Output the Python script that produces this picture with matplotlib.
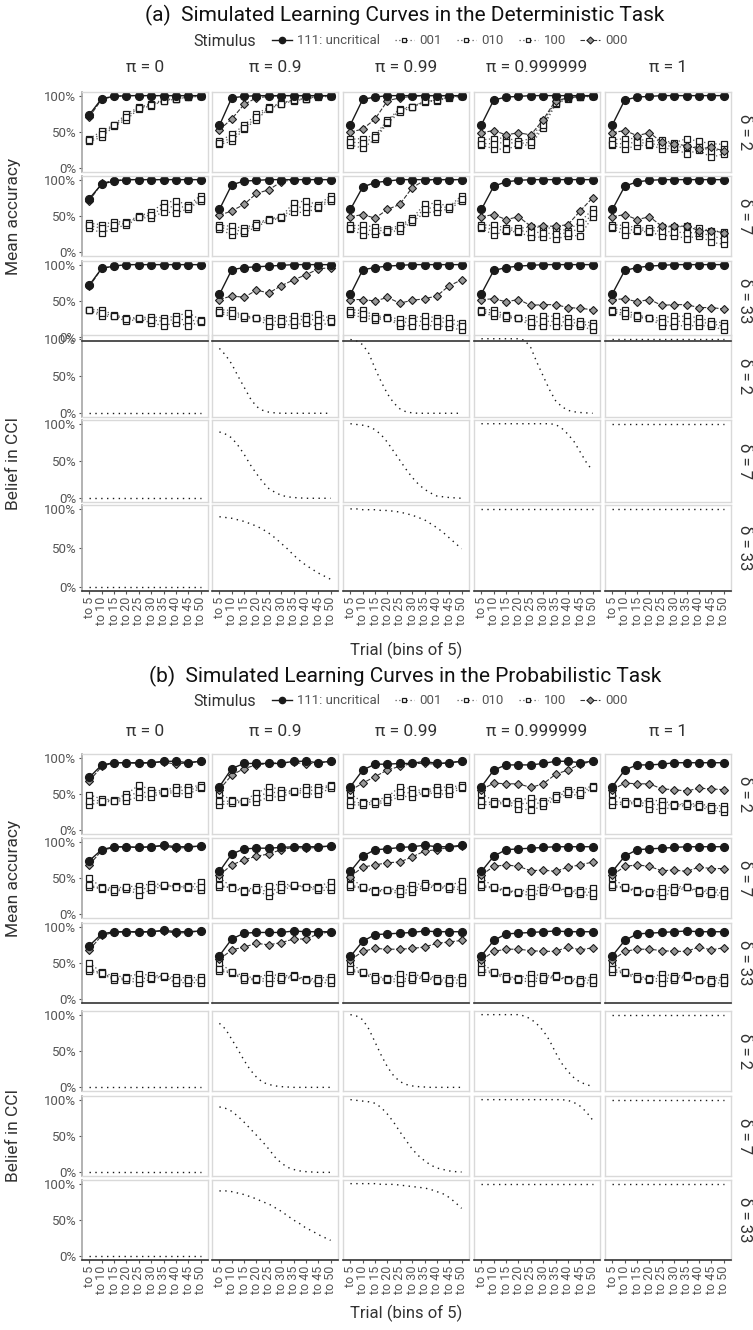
import matplotlib
matplotlib.use("Agg")
import matplotlib.pyplot as plt
from matplotlib.lines import Line2D
import numpy as np

plt.rcParams['font.family'] = ['Roboto', 'DejaVu Sans']

# ---- categories / labels ----
BINS = ["to 5", "to 10", "to 15", "to 20", "to 25", "to 30", "to 35", "to 40", "to 45", "to 50"]
PI_LABELS = ["0", "0.9", "0.99", "0.999999", "1"]
DELTAS = ["2", "7", "33"]
STIMULI = ["111", "001", "010", "100", "000"]
STIM_NAMES = ["111: uncritical", "001", "010", "100", "000"]
BELIEF_X = [1, 1.5, 2, 2.5, 3, 3.5, 4, 4.5, 5, 5.5, 6, 6.5, 7, 7.5, 8, 8.5, 9, 9.5, 10]

# ---- (a) deterministic task: mean accuracy, one row per pi ----
det_d2_111 = [[0.74, 0.96, 0.99, 1.00, 1.00, 1.00, 1.00, 1.00, 1.00, 1.00],
              [0.59, 0.97, 0.99, 1.00, 1.00, 1.00, 1.00, 1.00, 1.00, 1.00],
              [0.60, 0.95, 0.98, 1.00, 1.00, 1.00, 1.00, 1.00, 1.00, 1.00],
              [0.60, 0.94, 0.98, 0.99, 1.00, 1.00, 1.00, 1.00, 1.00, 1.00],
              [0.60, 0.94, 0.98, 0.99, 1.00, 1.00, 1.00, 1.00, 1.00, 1.00]]
det_d2_001 = [[0.41, 0.51, 0.60, 0.75, 0.84, 0.89, 0.94, 0.96, 0.98, 0.99],
              [0.37, 0.47, 0.59, 0.75, 0.84, 0.90, 0.94, 0.96, 0.99, 1.00],
              [0.40, 0.41, 0.46, 0.66, 0.82, 0.85, 0.92, 0.94, 0.98, 0.99],
              [0.39, 0.41, 0.42, 0.37, 0.41, 0.65, 0.91, 0.97, 0.98, 1.00],
              [0.39, 0.41, 0.41, 0.37, 0.39, 0.35, 0.41, 0.37, 0.34, 0.33]]
det_d2_010 = [[0.37, 0.43, 0.58, 0.67, 0.82, 0.86, 0.93, 0.95, 0.98, 0.99],
              [0.33, 0.37, 0.54, 0.67, 0.82, 0.88, 0.93, 0.95, 0.98, 0.99],
              [0.32, 0.28, 0.40, 0.62, 0.77, 0.84, 0.91, 0.93, 0.97, 0.99],
              [0.32, 0.27, 0.26, 0.32, 0.32, 0.56, 0.88, 0.96, 0.98, 0.99],
              [0.32, 0.27, 0.31, 0.32, 0.27, 0.27, 0.20, 0.25, 0.15, 0.20]]
det_d2_100 = [[0.39, 0.47, 0.59, 0.71, 0.83, 0.87, 0.93, 0.96, 0.99, 1.00],
              [0.35, 0.42, 0.56, 0.70, 0.83, 0.89, 0.94, 0.96, 0.99, 1.00],
              [0.36, 0.35, 0.43, 0.64, 0.80, 0.85, 0.92, 0.94, 0.98, 1.00],
              [0.34, 0.34, 0.36, 0.34, 0.36, 0.60, 0.90, 0.97, 0.99, 1.00],
              [0.34, 0.34, 0.36, 0.34, 0.32, 0.30, 0.29, 0.30, 0.24, 0.26]]
det_d2_000 = [[0.71, 0.95, 0.99, 1.00, 1.00, 1.00, 1.00, 1.00, 1.00, 1.00],
              [0.53, 0.68, 0.88, 0.97, 0.99, 1.00, 1.00, 1.00, 1.00, 1.00],
              [0.50, 0.54, 0.68, 0.93, 0.97, 0.99, 1.00, 1.00, 1.00, 1.00],
              [0.49, 0.52, 0.46, 0.49, 0.46, 0.67, 0.93, 0.97, 0.99, 1.00],
              [0.49, 0.52, 0.45, 0.49, 0.36, 0.34, 0.31, 0.27, 0.29, 0.24]]

det_d7_111 = [[0.74, 0.94, 0.98, 1.00, 1.00, 1.00, 1.00, 1.00, 1.00, 1.00],
              [0.59, 0.93, 0.98, 0.99, 1.00, 1.00, 1.00, 1.00, 1.00, 1.00],
              [0.59, 0.90, 0.96, 0.98, 1.00, 1.00, 1.00, 1.00, 1.00, 1.00],
              [0.59, 0.91, 0.97, 0.99, 1.00, 1.00, 1.00, 1.00, 1.00, 1.00],
              [0.59, 0.91, 0.97, 0.99, 1.00, 1.00, 1.00, 1.00, 1.00, 1.00]]
det_d7_001 = [[0.40, 0.38, 0.42, 0.42, 0.50, 0.55, 0.68, 0.71, 0.65, 0.78],
              [0.37, 0.36, 0.33, 0.40, 0.46, 0.49, 0.68, 0.71, 0.65, 0.78],
              [0.37, 0.37, 0.35, 0.32, 0.37, 0.47, 0.66, 0.68, 0.63, 0.78],
              [0.38, 0.37, 0.34, 0.33, 0.35, 0.34, 0.33, 0.30, 0.42, 0.59],
              [0.38, 0.37, 0.34, 0.33, 0.35, 0.35, 0.36, 0.33, 0.30, 0.28]]
det_d7_010 = [[0.34, 0.26, 0.34, 0.37, 0.48, 0.47, 0.56, 0.54, 0.60, 0.71],
              [0.32, 0.24, 0.27, 0.35, 0.44, 0.47, 0.55, 0.55, 0.61, 0.71],
              [0.32, 0.24, 0.25, 0.28, 0.30, 0.42, 0.54, 0.56, 0.60, 0.70],
              [0.33, 0.24, 0.29, 0.28, 0.21, 0.21, 0.18, 0.23, 0.23, 0.49],
              [0.33, 0.24, 0.29, 0.28, 0.23, 0.23, 0.19, 0.23, 0.14, 0.11]]
det_d7_100 = [[0.37, 0.33, 0.38, 0.40, 0.49, 0.51, 0.62, 0.63, 0.62, 0.74],
              [0.35, 0.30, 0.30, 0.38, 0.45, 0.48, 0.61, 0.63, 0.63, 0.74],
              [0.34, 0.31, 0.30, 0.30, 0.34, 0.44, 0.60, 0.62, 0.62, 0.74],
              [0.35, 0.31, 0.31, 0.30, 0.28, 0.27, 0.25, 0.27, 0.33, 0.54],
              [0.35, 0.31, 0.31, 0.30, 0.29, 0.28, 0.27, 0.27, 0.23, 0.18]]
det_d7_000 = [[0.71, 0.95, 0.99, 1.00, 1.00, 1.00, 1.00, 1.00, 1.00, 1.00],
              [0.51, 0.57, 0.66, 0.81, 0.86, 0.97, 1.00, 1.00, 1.00, 1.00],
              [0.49, 0.52, 0.47, 0.59, 0.66, 0.89, 0.99, 1.00, 1.00, 1.00],
              [0.49, 0.52, 0.45, 0.49, 0.36, 0.36, 0.36, 0.38, 0.57, 0.75],
              [0.49, 0.52, 0.45, 0.49, 0.36, 0.36, 0.36, 0.30, 0.30, 0.27]]

det_d33_111 = [[0.72, 0.95, 0.98, 1.00, 1.00, 1.00, 1.00, 1.00, 1.00, 1.00],
               [0.59, 0.93, 0.96, 0.97, 0.98, 0.99, 1.00, 1.00, 1.00, 1.00],
               [0.59, 0.93, 0.96, 0.98, 0.99, 1.00, 1.00, 1.00, 1.00, 1.00],
               [0.60, 0.92, 0.96, 0.98, 0.99, 1.00, 1.00, 1.00, 1.00, 1.00],
               [0.60, 0.92, 0.96, 0.98, 0.99, 1.00, 1.00, 1.00, 1.00, 1.00]]
det_d33_001 = [[0.38, 0.38, 0.31, 0.27, 0.27, 0.28, 0.27, 0.29, 0.34, 0.24],
               [0.38, 0.37, 0.30, 0.27, 0.27, 0.27, 0.29, 0.29, 0.32, 0.26],
               [0.38, 0.37, 0.30, 0.28, 0.25, 0.27, 0.29, 0.27, 0.26, 0.20],
               [0.38, 0.38, 0.31, 0.27, 0.27, 0.29, 0.29, 0.27, 0.22, 0.20],
               [0.38, 0.38, 0.31, 0.27, 0.27, 0.29, 0.29, 0.27, 0.22, 0.20]]
det_d33_010 = [[0.37, 0.29, 0.29, 0.22, 0.25, 0.20, 0.16, 0.20, 0.16, 0.21],
               [0.33, 0.29, 0.27, 0.26, 0.16, 0.18, 0.17, 0.20, 0.15, 0.21],
               [0.32, 0.27, 0.24, 0.26, 0.16, 0.16, 0.16, 0.16, 0.14, 0.10],
               [0.35, 0.29, 0.27, 0.26, 0.16, 0.16, 0.16, 0.16, 0.16, 0.10],
               [0.35, 0.29, 0.27, 0.26, 0.16, 0.16, 0.16, 0.16, 0.16, 0.10]]
det_d33_100 = [[0.37, 0.33, 0.30, 0.25, 0.26, 0.24, 0.22, 0.25, 0.24, 0.22],
               [0.35, 0.33, 0.29, 0.27, 0.22, 0.22, 0.23, 0.25, 0.24, 0.23],
               [0.35, 0.32, 0.27, 0.27, 0.20, 0.22, 0.22, 0.22, 0.20, 0.15],
               [0.36, 0.33, 0.29, 0.26, 0.21, 0.22, 0.22, 0.21, 0.19, 0.15],
               [0.36, 0.33, 0.29, 0.26, 0.21, 0.22, 0.22, 0.21, 0.19, 0.15]]
det_d33_000 = [[0.70, 0.95, 0.98, 1.00, 1.00, 1.00, 1.00, 1.00, 1.00, 1.00],
               [0.52, 0.57, 0.55, 0.65, 0.61, 0.71, 0.79, 0.86, 0.94, 0.96],
               [0.52, 0.52, 0.50, 0.55, 0.47, 0.51, 0.53, 0.57, 0.71, 0.79],
               [0.52, 0.53, 0.49, 0.52, 0.44, 0.45, 0.45, 0.41, 0.40, 0.38],
               [0.52, 0.53, 0.49, 0.52, 0.44, 0.45, 0.45, 0.41, 0.41, 0.39]]

# ---- (b) probabilistic task: mean accuracy ----
prob_d2_111 = [[0.73, 0.90, 0.93, 0.93, 0.93, 0.93, 0.95, 0.95, 0.93, 0.95],
               [0.60, 0.85, 0.92, 0.92, 0.92, 0.92, 0.95, 0.95, 0.93, 0.95],
               [0.60, 0.83, 0.91, 0.91, 0.92, 0.92, 0.95, 0.92, 0.93, 0.95],
               [0.60, 0.83, 0.90, 0.90, 0.90, 0.92, 0.95, 0.95, 0.93, 0.95],
               [0.60, 0.83, 0.90, 0.90, 0.91, 0.93, 0.93, 0.93, 0.93, 0.93]]
prob_d2_001 = [[0.49, 0.43, 0.42, 0.50, 0.62, 0.56, 0.54, 0.60, 0.59, 0.62],
               [0.50, 0.42, 0.41, 0.51, 0.60, 0.56, 0.54, 0.60, 0.59, 0.62],
               [0.50, 0.39, 0.41, 0.46, 0.60, 0.57, 0.54, 0.60, 0.59, 0.62],
               [0.50, 0.41, 0.40, 0.41, 0.45, 0.40, 0.49, 0.56, 0.56, 0.61],
               [0.50, 0.41, 0.40, 0.41, 0.41, 0.36, 0.37, 0.36, 0.34, 0.34]]
prob_d2_010 = [[0.35, 0.39, 0.40, 0.41, 0.46, 0.46, 0.52, 0.51, 0.50, 0.58],
               [0.35, 0.37, 0.39, 0.39, 0.46, 0.46, 0.53, 0.50, 0.50, 0.58],
               [0.35, 0.35, 0.36, 0.39, 0.47, 0.46, 0.52, 0.50, 0.50, 0.58],
               [0.35, 0.36, 0.37, 0.30, 0.28, 0.33, 0.43, 0.50, 0.48, 0.58],
               [0.35, 0.36, 0.37, 0.30, 0.28, 0.33, 0.34, 0.32, 0.28, 0.25]]
prob_d2_100 = [[0.41, 0.41, 0.41, 0.46, 0.53, 0.51, 0.53, 0.55, 0.55, 0.60],
               [0.40, 0.40, 0.40, 0.45, 0.53, 0.51, 0.54, 0.55, 0.55, 0.61],
               [0.40, 0.37, 0.39, 0.42, 0.53, 0.51, 0.53, 0.55, 0.55, 0.60],
               [0.40, 0.38, 0.39, 0.36, 0.38, 0.37, 0.46, 0.53, 0.52, 0.60],
               [0.40, 0.38, 0.39, 0.36, 0.35, 0.35, 0.36, 0.34, 0.31, 0.30]]
prob_d2_000 = [[0.68, 0.88, 0.93, 0.93, 0.92, 0.93, 0.94, 0.91, 0.93, 0.95],
               [0.56, 0.76, 0.85, 0.90, 0.92, 0.93, 0.94, 0.91, 0.93, 0.95],
               [0.55, 0.65, 0.74, 0.83, 0.88, 0.92, 0.92, 0.91, 0.93, 0.95],
               [0.56, 0.65, 0.64, 0.64, 0.59, 0.64, 0.77, 0.83, 0.91, 0.95],
               [0.56, 0.65, 0.64, 0.64, 0.57, 0.56, 0.54, 0.58, 0.57, 0.56]]

prob_d7_111 = [[0.74, 0.89, 0.93, 0.93, 0.92, 0.93, 0.95, 0.93, 0.93, 0.94],
               [0.59, 0.83, 0.90, 0.91, 0.91, 0.92, 0.93, 0.93, 0.93, 0.94],
               [0.59, 0.80, 0.89, 0.90, 0.92, 0.93, 0.95, 0.93, 0.93, 0.95],
               [0.59, 0.80, 0.89, 0.90, 0.91, 0.92, 0.93, 0.93, 0.93, 0.93],
               [0.59, 0.80, 0.89, 0.90, 0.91, 0.92, 0.93, 0.93, 0.93, 0.93]]
prob_d7_001 = [[0.50, 0.37, 0.36, 0.38, 0.39, 0.42, 0.41, 0.39, 0.39, 0.45],
               [0.50, 0.38, 0.34, 0.37, 0.39, 0.42, 0.40, 0.38, 0.38, 0.45],
               [0.50, 0.38, 0.34, 0.34, 0.36, 0.40, 0.43, 0.39, 0.39, 0.46],
               [0.50, 0.38, 0.33, 0.31, 0.36, 0.38, 0.38, 0.33, 0.34, 0.36],
               [0.50, 0.38, 0.33, 0.31, 0.36, 0.38, 0.38, 0.33, 0.34, 0.33]]
prob_d7_010 = [[0.38, 0.35, 0.31, 0.35, 0.27, 0.34, 0.39, 0.37, 0.36, 0.33],
               [0.38, 0.37, 0.31, 0.33, 0.25, 0.33, 0.39, 0.37, 0.33, 0.33],
               [0.38, 0.36, 0.31, 0.33, 0.28, 0.31, 0.37, 0.37, 0.35, 0.34],
               [0.38, 0.36, 0.31, 0.30, 0.25, 0.31, 0.37, 0.30, 0.28, 0.25],
               [0.38, 0.36, 0.31, 0.30, 0.25, 0.31, 0.37, 0.30, 0.28, 0.25]]
prob_d7_100 = [[0.40, 0.36, 0.33, 0.37, 0.33, 0.38, 0.40, 0.38, 0.38, 0.38],
               [0.40, 0.36, 0.32, 0.35, 0.31, 0.37, 0.40, 0.38, 0.36, 0.38],
               [0.40, 0.37, 0.32, 0.34, 0.32, 0.35, 0.40, 0.38, 0.37, 0.38],
               [0.40, 0.37, 0.32, 0.31, 0.31, 0.34, 0.38, 0.32, 0.31, 0.30],
               [0.40, 0.37, 0.32, 0.31, 0.31, 0.34, 0.38, 0.32, 0.31, 0.29]]
prob_d7_000 = [[0.68, 0.88, 0.92, 0.93, 0.92, 0.93, 0.94, 0.91, 0.92, 0.94],
               [0.54, 0.68, 0.75, 0.80, 0.83, 0.89, 0.92, 0.91, 0.92, 0.94],
               [0.52, 0.65, 0.68, 0.71, 0.72, 0.79, 0.87, 0.89, 0.92, 0.94],
               [0.54, 0.66, 0.68, 0.66, 0.60, 0.61, 0.59, 0.65, 0.68, 0.72],
               [0.54, 0.66, 0.68, 0.66, 0.60, 0.61, 0.59, 0.65, 0.63, 0.63]]

prob_d33_111 = [[0.74, 0.90, 0.93, 0.93, 0.93, 0.93, 0.95, 0.93, 0.93, 0.94],
                [0.60, 0.83, 0.91, 0.92, 0.92, 0.92, 0.94, 0.93, 0.93, 0.93],
                [0.59, 0.80, 0.89, 0.90, 0.91, 0.92, 0.94, 0.93, 0.93, 0.93],
                [0.60, 0.81, 0.90, 0.91, 0.92, 0.93, 0.94, 0.93, 0.93, 0.93],
                [0.60, 0.81, 0.90, 0.91, 0.92, 0.93, 0.94, 0.93, 0.93, 0.93]]
prob_d33_001 = [[0.50, 0.37, 0.32, 0.31, 0.35, 0.33, 0.32, 0.31, 0.29, 0.31],
                [0.50, 0.38, 0.32, 0.29, 0.35, 0.32, 0.33, 0.28, 0.29, 0.31],
                [0.50, 0.38, 0.32, 0.29, 0.35, 0.33, 0.33, 0.30, 0.29, 0.31],
                [0.50, 0.38, 0.32, 0.29, 0.35, 0.32, 0.33, 0.28, 0.28, 0.31],
                [0.50, 0.38, 0.32, 0.29, 0.35, 0.32, 0.33, 0.28, 0.28, 0.31]]
prob_d33_010 = [[0.39, 0.35, 0.27, 0.27, 0.22, 0.28, 0.31, 0.23, 0.23, 0.23],
                [0.39, 0.36, 0.27, 0.27, 0.23, 0.27, 0.31, 0.26, 0.23, 0.23],
                [0.39, 0.36, 0.27, 0.26, 0.23, 0.27, 0.30, 0.25, 0.23, 0.22],
                [0.38, 0.36, 0.28, 0.27, 0.23, 0.27, 0.31, 0.26, 0.22, 0.23],
                [0.38, 0.36, 0.28, 0.27, 0.23, 0.27, 0.31, 0.26, 0.22, 0.23]]
prob_d33_100 = [[0.42, 0.36, 0.29, 0.29, 0.28, 0.30, 0.32, 0.27, 0.26, 0.27],
                [0.42, 0.37, 0.29, 0.28, 0.29, 0.29, 0.32, 0.27, 0.26, 0.27],
                [0.42, 0.37, 0.29, 0.28, 0.28, 0.29, 0.32, 0.27, 0.26, 0.27],
                [0.42, 0.37, 0.30, 0.28, 0.29, 0.29, 0.32, 0.27, 0.25, 0.27],
                [0.42, 0.37, 0.30, 0.28, 0.29, 0.29, 0.32, 0.27, 0.25, 0.27]]
prob_d33_000 = [[0.68, 0.88, 0.92, 0.93, 0.92, 0.93, 0.94, 0.91, 0.92, 0.94],
                [0.55, 0.68, 0.72, 0.77, 0.75, 0.78, 0.83, 0.83, 0.90, 0.93],
                [0.54, 0.66, 0.70, 0.69, 0.69, 0.70, 0.72, 0.77, 0.79, 0.81],
                [0.54, 0.66, 0.69, 0.69, 0.67, 0.66, 0.66, 0.72, 0.68, 0.71],
                [0.54, 0.66, 0.69, 0.69, 0.67, 0.66, 0.66, 0.72, 0.68, 0.71]]

# ---- belief in CCI (read at half-bin steps), one row per pi ----
det_belief_d2 = [
    [0.0, 0.0, 0.0, 0.0, 0.0, 0.0, 0.0, 0.0, 0.0, 0.0, 0.0, 0.0, 0.0, 0.0, 0.0, 0.0, 0.0, 0.0, 0.0],
    [0.87, 0.78, 0.66, 0.50, 0.35, 0.20, 0.09, 0.04, 0.015, 0.005, 0.0, 0.0, 0.0, 0.0, 0.0, 0.0, 0.0, 0.0, 0.0],
    [0.99, 0.97, 0.92, 0.80, 0.60, 0.42, 0.26, 0.14, 0.06, 0.02, 0.005, 0.0, 0.0, 0.0, 0.0, 0.0, 0.0, 0.0, 0.0],
    [1.0, 1.0, 1.0, 1.0, 1.0, 1.0, 1.0, 0.98, 0.88, 0.68, 0.50, 0.32, 0.17, 0.09, 0.04, 0.02, 0.01, 0.005, 0.0],
    [1.0, 1.0, 1.0, 1.0, 1.0, 1.0, 1.0, 1.0, 1.0, 1.0, 1.0, 1.0, 1.0, 1.0, 1.0, 1.0, 1.0, 1.0, 1.0]]
det_belief_d7 = [
    [0.0, 0.0, 0.0, 0.0, 0.0, 0.0, 0.0, 0.0, 0.0, 0.0, 0.0, 0.0, 0.0, 0.0, 0.0, 0.0, 0.0, 0.0, 0.0],
    [0.89, 0.86, 0.81, 0.71, 0.59, 0.45, 0.33, 0.22, 0.13, 0.08, 0.04, 0.02, 0.01, 0.005, 0.0, 0.0, 0.0, 0.0, 0.0],
    [1.0, 0.99, 0.98, 0.96, 0.92, 0.85, 0.75, 0.63, 0.51, 0.39, 0.28, 0.19, 0.12, 0.07, 0.03, 0.02, 0.01, 0.005, 0.0],
    [1.0, 1.0, 1.0, 1.0, 1.0, 1.0, 1.0, 1.0, 1.0, 1.0, 1.0, 1.0, 0.99, 0.94, 0.86, 0.76, 0.62, 0.48, 0.37],
    [1.0, 1.0, 1.0, 1.0, 1.0, 1.0, 1.0, 1.0, 1.0, 1.0, 1.0, 1.0, 1.0, 1.0, 1.0, 1.0, 1.0, 1.0, 1.0]]
det_belief_d33 = [
    [0.0, 0.0, 0.0, 0.0, 0.0, 0.0, 0.0, 0.0, 0.0, 0.0, 0.0, 0.0, 0.0, 0.0, 0.0, 0.0, 0.0, 0.0, 0.0],
    [0.90, 0.89, 0.88, 0.86, 0.84, 0.81, 0.78, 0.74, 0.69, 0.63, 0.56, 0.49, 0.41, 0.34, 0.28, 0.23, 0.18, 0.14, 0.10],
    [1.0, 1.0, 0.99, 0.99, 0.99, 0.98, 0.98, 0.97, 0.96, 0.94, 0.92, 0.89, 0.86, 0.81, 0.76, 0.70, 0.63, 0.56, 0.49],
    [1.0, 1.0, 1.0, 1.0, 1.0, 1.0, 1.0, 1.0, 1.0, 1.0, 1.0, 1.0, 1.0, 1.0, 1.0, 1.0, 1.0, 1.0, 1.0],
    [1.0, 1.0, 1.0, 1.0, 1.0, 1.0, 1.0, 1.0, 1.0, 1.0, 1.0, 1.0, 1.0, 1.0, 1.0, 1.0, 1.0, 1.0, 1.0]]
prob_belief_d2 = [
    [0.0, 0.0, 0.0, 0.0, 0.0, 0.0, 0.0, 0.0, 0.0, 0.0, 0.0, 0.0, 0.0, 0.0, 0.0, 0.0, 0.0, 0.0, 0.0],
    [0.88, 0.80, 0.66, 0.52, 0.37, 0.24, 0.14, 0.07, 0.04, 0.02, 0.01, 0.005, 0.0, 0.0, 0.0, 0.0, 0.0, 0.0, 0.0],
    [1.0, 0.98, 0.93, 0.80, 0.62, 0.44, 0.28, 0.16, 0.08, 0.04, 0.02, 0.01, 0.005, 0.0, 0.0, 0.0, 0.0, 0.0, 0.0],
    [1.0, 1.0, 1.0, 1.0, 1.0, 1.0, 1.0, 0.98, 0.94, 0.87, 0.78, 0.65, 0.48, 0.33, 0.22, 0.13, 0.07, 0.04, 0.01],
    [1.0, 1.0, 1.0, 1.0, 1.0, 1.0, 1.0, 1.0, 1.0, 1.0, 1.0, 1.0, 1.0, 1.0, 1.0, 1.0, 1.0, 1.0, 1.0]]
prob_belief_d7 = [
    [0.0, 0.0, 0.0, 0.0, 0.0, 0.0, 0.0, 0.0, 0.0, 0.0, 0.0, 0.0, 0.0, 0.0, 0.0, 0.0, 0.0, 0.0, 0.0],
    [0.90, 0.88, 0.84, 0.77, 0.69, 0.60, 0.51, 0.42, 0.32, 0.21, 0.13, 0.07, 0.04, 0.02, 0.01, 0.005, 0.0, 0.0, 0.0],
    [1.0, 0.99, 0.98, 0.97, 0.95, 0.89, 0.80, 0.69, 0.56, 0.44, 0.32, 0.23, 0.16, 0.10, 0.06, 0.04, 0.02, 0.01, 0.005],
    [1.0, 1.0, 1.0, 1.0, 1.0, 1.0, 1.0, 1.0, 1.0, 1.0, 1.0, 1.0, 1.0, 1.0, 0.99, 0.96, 0.91, 0.83, 0.72],
    [1.0, 1.0, 1.0, 1.0, 1.0, 1.0, 1.0, 1.0, 1.0, 1.0, 1.0, 1.0, 1.0, 1.0, 1.0, 1.0, 1.0, 1.0, 1.0]]
prob_belief_d33 = [
    [0.0, 0.0, 0.0, 0.0, 0.0, 0.0, 0.0, 0.0, 0.0, 0.0, 0.0, 0.0, 0.0, 0.0, 0.0, 0.0, 0.0, 0.0, 0.0],
    [0.90, 0.90, 0.89, 0.87, 0.85, 0.82, 0.79, 0.75, 0.72, 0.67, 0.62, 0.56, 0.50, 0.45, 0.39, 0.35, 0.30, 0.26, 0.22],
    [1.0, 1.0, 1.0, 1.0, 1.0, 0.99, 0.99, 0.99, 0.98, 0.97, 0.96, 0.95, 0.94, 0.92, 0.89, 0.86, 0.81, 0.74, 0.66],
    [1.0, 1.0, 1.0, 1.0, 1.0, 1.0, 1.0, 1.0, 1.0, 1.0, 1.0, 1.0, 1.0, 1.0, 1.0, 1.0, 1.0, 1.0, 1.0],
    [1.0, 1.0, 1.0, 1.0, 1.0, 1.0, 1.0, 1.0, 1.0, 1.0, 1.0, 1.0, 1.0, 1.0, 1.0, 1.0, 1.0, 1.0, 1.0]]

accuracy = {
    "det": [dict(zip(STIMULI, s)) for s in
            [(det_d2_111, det_d2_001, det_d2_010, det_d2_100, det_d2_000),
             (det_d7_111, det_d7_001, det_d7_010, det_d7_100, det_d7_000),
             (det_d33_111, det_d33_001, det_d33_010, det_d33_100, det_d33_000)]],
    "prob": [dict(zip(STIMULI, s)) for s in
             [(prob_d2_111, prob_d2_001, prob_d2_010, prob_d2_100, prob_d2_000),
              (prob_d7_111, prob_d7_001, prob_d7_010, prob_d7_100, prob_d7_000),
              (prob_d33_111, prob_d33_001, prob_d33_010, prob_d33_100, prob_d33_000)]],
}
belief = {"det": [det_belief_d2, det_belief_d7, det_belief_d33],
          "prob": [prob_belief_d2, prob_belief_d7, prob_belief_d33]}

# ---- styles ----
DARK = "#1a1a1a"
STYLE = {
    "111": dict(color=DARK, ls="-", lw=1.0, marker="o", ms=5.6, mfc=DARK, mec=DARK),
    "001": dict(color="#555555", ls=(0, (1, 2)), lw=0.9, marker="s", ms=4.0, mfc="white", mec=DARK, mew=0.9),
    "010": dict(color="#555555", ls=(0, (1, 2)), lw=0.9, marker="s", ms=4.0, mfc="white", mec=DARK, mew=0.9),
    "100": dict(color="#555555", ls=(0, (1, 2)), lw=0.9, marker="s", ms=4.0, mfc="white", mec=DARK, mew=0.9),
    "000": dict(color="#333333", ls=(0, (4, 1.5)), lw=0.8, marker="D", ms=4.4, mfc="#999999", mec=DARK, mew=0.8),
}
DRAW_ORDER = ["001", "010", "100", "000", "111"]
TICK_GREY = "#555555"
LABEL_GREY = "#333333"
BORDER = "#d9d9d9"

W, H = 753, 1330
fig = plt.figure(figsize=(W / 100, H / 100), dpi=100)
fig.patch.set_facecolor("white")


def rect(x, y, w, h):
    return [x / W, 1 - (y + h) / H, w / W, h / H]


def fy(y):
    return 1 - y / H


COL_X = [82, 212, 343, 474, 605]
COL_W = 126

BLOCKS = [
    dict(key="det", title="(a)  Simulated Learning Curves in the Deterministic Task",
         title_y=15, legend_y=41, header_y=67,
         acc_tops=[92, 176, 261], acc_h=80,
         bel_tops=[335, 420, 505], bel_hs=[82, 82, 86], xlabel_y=650),
    dict(key="prob", title="(b)  Simulated Learning Curves in the Probabilistic Task",
         title_y=676, legend_y=701, header_y=731,
         acc_tops=[754, 838, 923], acc_h=80,
         bel_tops=[1011, 1096, 1180], bel_hs=[80, 80, 80], xlabel_y=1313),
]


def style_axes(ax, first_col, bottom_dark, ylabels):
    for sp in ax.spines.values():
        sp.set_color(BORDER)
        sp.set_linewidth(1.0)
    if first_col:
        ax.spines["left"].set_color("#a6a6a6")
        ax.spines["left"].set_linewidth(1.2)
    if bottom_dark:
        ax.spines["bottom"].set_color("#333333")
        ax.spines["bottom"].set_linewidth(1.2)
    ax.set_ylim(-0.05, 1.05)
    ax.set_xlim(0.4, 10.6)
    ax.set_yticks([0, 0.5, 1.0])
    if first_col:
        ax.set_yticklabels(ylabels)
        ax.tick_params(axis="y", length=2.5, width=0.8, color="#555555",
                       labelsize=9.5, labelcolor=TICK_GREY, pad=1.5)
    else:
        ax.tick_params(axis="y", length=0, labelleft=False)


xs = np.arange(1, 11)
for blk in BLOCKS:
    key = blk["key"]
    # belief panels first so the accuracy block can overlap on top
    for r in range(3):
        for c in range(5):
            ax = fig.add_axes(rect(COL_X[c], blk["bel_tops"][r], COL_W, blk["bel_hs"][r]))
            ax.plot(BELIEF_X, belief[key][r][c], color=DARK, lw=1.0, ls=(0, (1, 3.2)))
            style_axes(ax, c == 0, r == 2, ["0%", "50%", "100%"])
            if r == 2:
                ax.set_xticks(xs)
                ax.set_xticklabels(BINS, rotation=90, fontsize=9, color=TICK_GREY)
                ax.tick_params(axis="x", length=2.5, width=0.8, color="#555555", pad=1.5)
            else:
                ax.set_xticks([])
    for r in range(3):
        for c in range(5):
            ax = fig.add_axes(rect(COL_X[c], blk["acc_tops"][r], COL_W, blk["acc_h"]))
            ax.patch.set_alpha(0.0)
            for stim in DRAW_ORDER:
                ax.plot(xs, accuracy[key][r][stim][c], **STYLE[stim])
            style_axes(ax, c == 0, r == 2, ["0%", "50%", "100%"])
            ax.set_xticks([])

    # titles, legend, strips
    fig.text(405 / W, fy(blk["title_y"]), blk["title"], ha="center", va="center", fontsize=15,
             color="#111111")
    fig.text(193 / W, fy(blk["legend_y"]), "Stimulus", ha="left", va="center", fontsize=11.5,
             color=LABEL_GREY)
    handles = [Line2D([], [], **{**STYLE[s], "ms": STYLE[s]["ms"] * 0.8}) for s in STIMULI]
    fig.legend(handles, STIM_NAMES, loc="center left", bbox_to_anchor=(272 / W, fy(blk["legend_y"])),
               ncol=5, frameon=False, handlelength=1.5, handletextpad=0.4, columnspacing=1.1,
               borderpad=0, borderaxespad=0, prop={"size": 9.5}, labelcolor=TICK_GREY)
    for c in range(5):
        fig.text((COL_X[c] + COL_W / 2) / W, fy(blk["header_y"]), "π = " + PI_LABELS[c],
                 ha="center", va="center", fontsize=12.5, color="#333333")
    for r in range(3):
        fig.text(745 / W, fy(blk["acc_tops"][r] + blk["acc_h"] / 2), "δ = " + DELTAS[r],
                 ha="center", va="center", rotation=270, fontsize=12, color=LABEL_GREY)
        fig.text(745 / W, fy(blk["bel_tops"][r] + blk["bel_hs"][r] / 2), "δ = " + DELTAS[r],
                 ha="center", va="center", rotation=270, fontsize=12, color=LABEL_GREY)
    acc_mid = (blk["acc_tops"][0] + blk["acc_tops"][2] + blk["acc_h"]) / 2
    bel_mid = (blk["bel_tops"][0] + blk["bel_tops"][2] + blk["bel_hs"][2]) / 2
    fig.text(14 / W, fy(acc_mid), "Mean accuracy", ha="center", va="center", rotation=90,
             fontsize=12.5, color=LABEL_GREY)
    fig.text(14 / W, fy(bel_mid), "Belief in CCI", ha="center", va="center", rotation=90,
             fontsize=12.5, color=LABEL_GREY)
    fig.text(406 / W, fy(blk["xlabel_y"]), "Trial (bins of 5)", ha="center", va="center",
             fontsize=12, color=LABEL_GREY)

fig.savefig("out.png", dpi=100)
